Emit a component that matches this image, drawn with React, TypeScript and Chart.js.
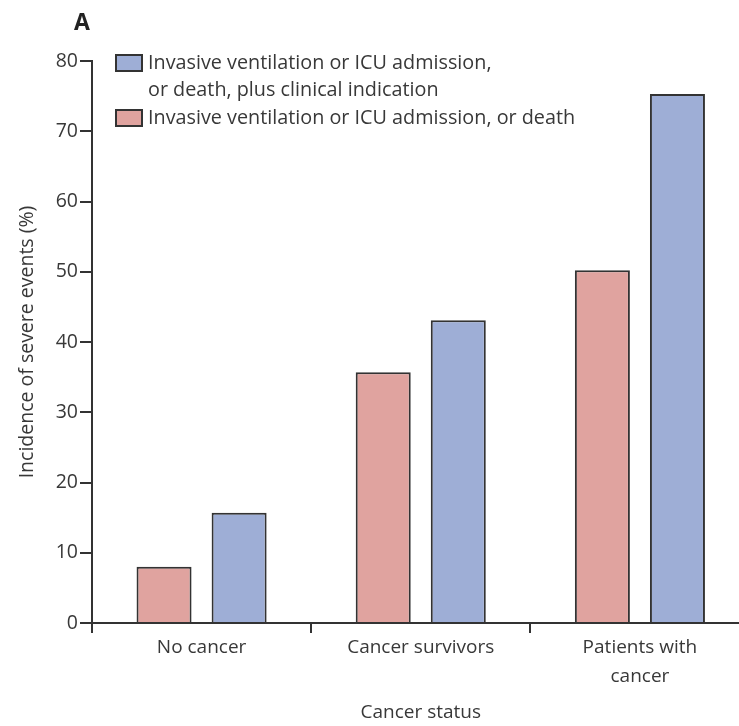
import React, { useEffect, useRef } from "react";
import { Chart, registerables } from "chart.js";

Chart.register(...registerables);

const categories: (string | string[])[] = ["No cancer", "Cancer survivors", ["Patients with", "cancer"]];
const severeValues = [8.0, 35.7, 50.2];
const severePlusClinicalValues = [15.7, 43.1, 75.3];
const severeLabel = "Invasive ventilation or ICU admission, or death";
const severePlusClinicalLabel = "Invasive ventilation or ICU admission, or death, plus clinical indication";
const legendLinesPlusClinical = ["Invasive ventilation or ICU admission,", "or death, plus clinical indication"];
const legendLinesSevere = ["Invasive ventilation or ICU admission, or death"];
const yTitle = "Incidence of severe events (%)";
const xTitle = "Cancer status";
const panelLetter = "A";

const FONT = "'Open Sans', 'DejaVu Sans', sans-serif";
const TEXT = "#383838";
const RED = "#E0A39F";
const BLUE = "#9EAED6";
const EDGE = "#333333";

const overlayPlugin = {
  id: "overlay",
  afterDraw(chart: any) {
    const ctx = chart.ctx as CanvasRenderingContext2D;
    ctx.save();
    // panel letter
    ctx.fillStyle = "#222";
    ctx.font = `bold 23px ${FONT}`;
    ctx.textBaseline = "alphabetic";
    ctx.textAlign = "left";
    ctx.fillText(panelLetter, 74, 30);
    // legend
    const entries = [
      { lines: legendLinesPlusClinical, color: chart.data.datasets[1].backgroundColor },
      { lines: legendLinesSevere, color: chart.data.datasets[0].backgroundColor },
    ];
    const boxX = 116;
    const boxW = 26;
    const boxH = 16;
    const textX = 148;
    const lineH = 27.5;
    let y = 63;
    ctx.font = `19.8px ${FONT}`;
    ctx.textBaseline = "middle";
    for (const e of entries) {
      ctx.fillStyle = e.color;
      ctx.fillRect(boxX, y - boxH / 2, boxW, boxH);
      ctx.strokeStyle = EDGE;
      ctx.lineWidth = 2;
      ctx.strokeRect(boxX, y - boxH / 2, boxW, boxH);
      ctx.fillStyle = TEXT;
      e.lines.forEach((ln: string, i: number) => {
        ctx.fillText(ln, textX, y + i * lineH);
      });
      y += e.lines.length * lineH;
    }
    ctx.restore();
  },
};

export default function App() {
  const canvasRef = useRef<HTMLCanvasElement | null>(null);

  useEffect(() => {
    const canvas = canvasRef.current;
    if (!canvas) return;
    const chart = new Chart(canvas, {
      type: "bar",
      data: {
        labels: categories as any,
        datasets: [
          {
            label: severeLabel,
            data: severeValues,
            backgroundColor: RED,
            borderColor: EDGE,
            borderWidth: 2,
            categoryPercentage: 0.685,
            barPercentage: 0.733,
          },
          {
            label: severePlusClinicalLabel,
            data: severePlusClinicalValues,
            backgroundColor: BLUE,
            borderColor: EDGE,
            borderWidth: 2,
            categoryPercentage: 0.685,
            barPercentage: 0.733,
          },
        ],
      },
      options: {
        animation: false,
        responsive: false,
        devicePixelRatio: 1,
        layout: { padding: { top: 61, right: 10.5, left: 0, bottom: 0 } },
        plugins: {
          legend: { display: false },
          tooltip: { enabled: false },
          title: { display: false },
        },
        scales: {
          x: {
            grid: {
              display: true,
              offset: true,
              drawOnChartArea: false,
              drawTicks: true,
              tickLength: 10,
              color: EDGE,
              lineWidth: 2,
            },
            border: { display: true, color: EDGE, width: 2 },
            ticks: {
              color: TEXT,
              font: { family: FONT, size: 19, lineHeight: 1.53 },
              padding: 0,
              maxRotation: 0,
              autoSkip: false,
            },
            title: {
              display: true,
              text: xTitle,
              color: TEXT,
              font: { family: FONT, size: 19 },
              padding: { top: 0, bottom: 2.5 },
            },
            afterFit: (scale: any) => {
              scale.height = 103;
            },
          },
          y: {
            min: 0,
            max: 80,
            grid: {
              display: true,
              drawOnChartArea: false,
              drawTicks: true,
              tickLength: 12,
              color: EDGE,
              lineWidth: 2,
            },
            border: { display: true, color: EDGE, width: 2 },
            ticks: {
              stepSize: 10,
              color: TEXT,
              font: { family: FONT, size: 19.5 },
              padding: 2,
            },
            title: {
              display: true,
              text: yTitle,
              color: TEXT,
              font: { family: FONT, size: 19.5 },
              padding: { top: 16, bottom: 0 },
            },
            afterFit: (scale: any) => {
              scale.width = 92;
            },
          },
        },
      },
      plugins: [overlayPlugin],
    });
    return () => chart.destroy();
  }, []);

  return (
    <div
      style={{
        position: "fixed",
        left: 0,
        top: 0,
        width: 739,
        height: 726,
        overflow: "hidden",
        background: "#ffffff",
      }}
    >
      <canvas ref={canvasRef} width={760} height={726} style={{ display: "block", width: 760, height: 726 }} />
    </div>
  );
}
